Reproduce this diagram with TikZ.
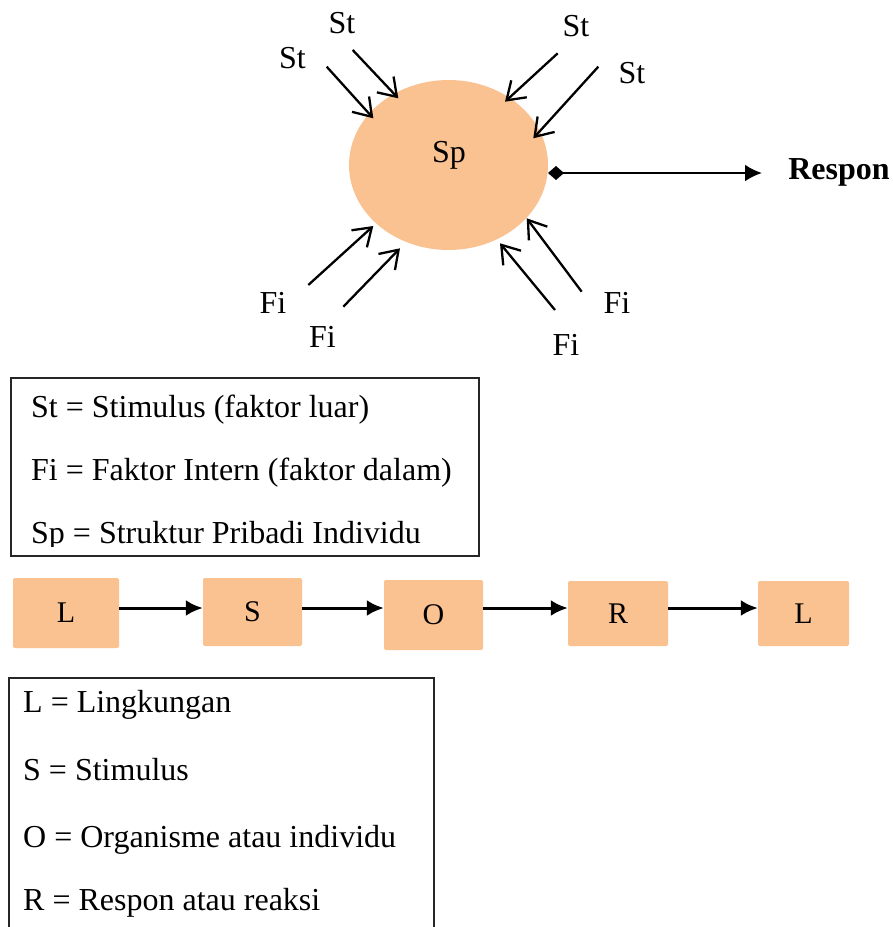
\documentclass[tikz,border=0pt]{standalone}
\usepackage{fontspec}
\setmainfont{Liberation Serif}
\usetikzlibrary{arrows.meta,shapes.geometric}
\definecolor{peach}{HTML}{FAC191}
\begin{document}
\begin{tikzpicture}[x=1pt,y=-1pt,
  lbl/.style={font=\fontsize{32}{38}\selectfont, inner sep=0pt, anchor=base},
  legtxt/.style={font=\fontsize{32}{38}\selectfont, inner sep=0pt, anchor=base west},
  inarr/.style={line width=2.3pt, -{Straight Barb[length=17pt,width=23pt]}},
  flow/.style={line width=3pt, -{Latex[length=17pt,width=16pt]}},
  fbox/.style={fill=peach, rounded corners=2pt, inner sep=0pt, font=\fontsize{30}{36}\selectfont},
  legbox/.style={draw=black!85, line width=1.5pt, anchor=north west, inner sep=0pt}]
\useasboundingbox (0,0) rectangle (893,927);
\clip (0,0) rectangle (893,927);

% central ellipse
\node[ellipse, fill=peach, minimum width=199pt, minimum height=170pt, inner sep=0pt] (sp) at (448.5,165) {};
\node[lbl] (sptxt) at (449,162) {Sp};

% stimulus labels
\node[lbl] (stA) at (342,33) {St};
\node[lbl] (stB) at (292.5,68) {St};
\node[lbl] (stC) at (576,36) {St};
\node[lbl] (stD) at (632,83) {St};
% internal factor labels
\node[lbl] (fiA) at (273,313) {Fi};
\node[lbl] (fiB) at (322.5,347) {Fi};
\node[lbl] (fiC) at (566,355) {Fi};
\node[lbl] (fiD) at (617,313) {Fi};

% arrow coordinates
\coordinate (a0) at (352.7,50);  \coordinate (a1) at (398.3,98.3);
\coordinate (b0) at (326.7,66.7); \coordinate (b1) at (373.3,118.3);
\coordinate (c0) at (557.7,53.3); \coordinate (c1) at (505,101.7);
\coordinate (d0) at (598.3,66.7); \coordinate (d1) at (533.3,138.3);
\coordinate (e0) at (308.3,285);  \coordinate (e1) at (373.3,226);
\coordinate (f0) at (343.3,306.7); \coordinate (f1) at (400,248.3);
\coordinate (g0) at (555,310);    \coordinate (g1) at (500,243.3);
\coordinate (h0) at (581.7,291.7); \coordinate (h1) at (526.7,218.3);
\draw[inarr] (a0) -- (a1);
\draw[inarr] (b0) -- (b1);
\draw[inarr] (c0) -- (c1);
\draw[inarr] (d0) -- (d1);
\draw[inarr] (e0) -- (e1);
\draw[inarr] (f0) -- (f1);
\draw[inarr] (g0) -- (g1);
\draw[inarr] (h0) -- (h1);

% respon
\node[lbl, font=\fontsize{32}{38}\selectfont\bfseries] (respon) at (839,179) {Respon};
\coordinate (r0) at (548,173);
\coordinate (r1) at (762,173);
\draw[line width=2.5pt, {Diamond[length=16pt,width=14pt]}-{Latex[length=17pt,width=17pt]}] (r0) -- (r1);

% legend 1
\node[legbox, minimum width=468pt, minimum height=178pt] (leg1) at (10,377) {};
\begin{scope}
\clip (10,377) rectangle (478,546);
\node[legtxt] (l1a) at (31,417) {St = Stimulus (faktor luar)};
\node[legtxt] (l1b) at (31,480) {Fi = Faktor Intern (faktor dalam)};
\node[legtxt] (l1c) at (31,543) {Sp = Struktur Pribadi Individu};
\end{scope}

% flow row
\node[fbox, minimum width=106pt, minimum height=70pt] (bl1) at (66,613) {L};
\node[fbox, minimum width=99pt, minimum height=68pt] (bs) at (252.5,612) {S};
\node[fbox, minimum width=99pt, minimum height=70pt] (bo) at (433.5,615) {O};
\node[fbox, minimum width=100pt, minimum height=65pt] (br) at (618,613.5) {R};
\node[fbox, minimum width=91pt, minimum height=65pt] (bl2) at (803.5,613.5) {L};
\coordinate (yrow) at (0,608);
\draw[flow] (bl1.east |- yrow) -- (bs.west |- yrow);
\draw[flow] (bs.east |- yrow) -- (bo.west |- yrow);
\draw[flow] (bo.east |- yrow) -- (br.west |- yrow);
\draw[flow] (br.east |- yrow) -- (bl2.west |- yrow);

% legend 2
\node[legbox, minimum width=425pt, minimum height=280pt] (leg2) at (8,677) {};
\node[legtxt] (l2a) at (23,712) {L = Lingkungan};
\node[legtxt] (l2b) at (23,780) {S = Stimulus};
\node[legtxt] (l2c) at (23,847) {O = Organisme atau individu};
\node[legtxt] (l2d) at (23,910) {R = Respon atau reaksi};
\end{tikzpicture}
\end{document}
